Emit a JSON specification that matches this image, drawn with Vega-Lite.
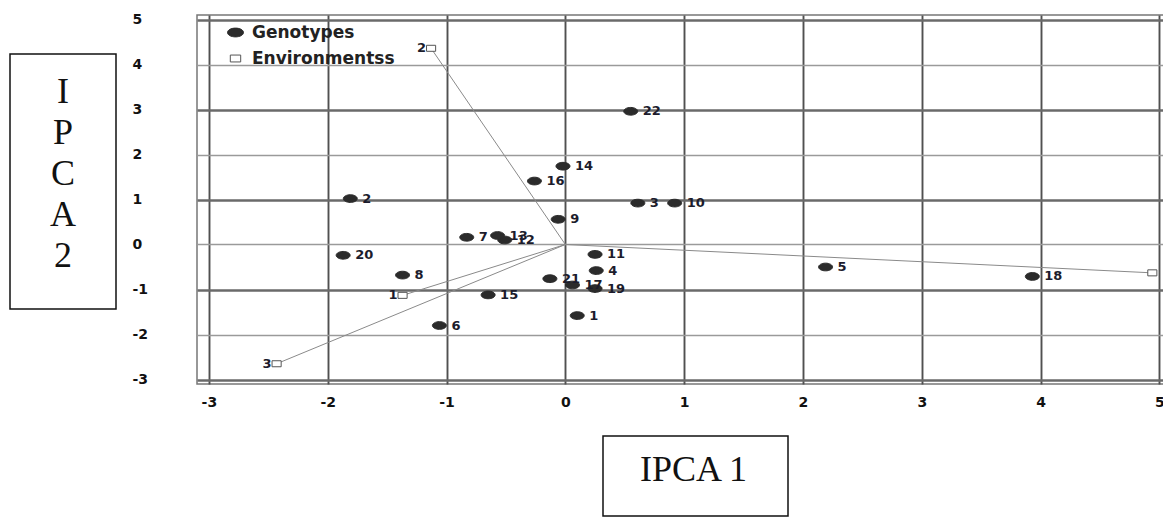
{
  "$schema": "https://vega.github.io/schema/vega-lite/v6.json",
  "padding": {"left": 9, "top": 11, "right": 0, "bottom": 0},
  "background": "white",
  "config": {"view": {"stroke": null}},
  "datasets": {
    "pts": [
      {"type": "Genotypes", "label": "1", "x": 0.10, "y": -1.58},
      {"type": "Genotypes", "label": "2", "x": -1.81, "y": 1.02},
      {"type": "Genotypes", "label": "3", "x": 0.61, "y": 0.92},
      {"type": "Genotypes", "label": "4", "x": 0.26, "y": -0.58},
      {"type": "Genotypes", "label": "5", "x": 2.19, "y": -0.50},
      {"type": "Genotypes", "label": "6", "x": -1.06, "y": -1.80},
      {"type": "Genotypes", "label": "7", "x": -0.83, "y": 0.16},
      {"type": "Genotypes", "label": "8", "x": -1.37, "y": -0.68},
      {"type": "Genotypes", "label": "9", "x": -0.06, "y": 0.56},
      {"type": "Genotypes", "label": "10", "x": 0.92, "y": 0.92},
      {"type": "Genotypes", "label": "11", "x": 0.25, "y": -0.22},
      {"type": "Genotypes", "label": "12", "x": -0.51, "y": 0.10},
      {"type": "Genotypes", "label": "13", "x": -0.57, "y": 0.20},
      {"type": "Genotypes", "label": "14", "x": -0.02, "y": 1.74},
      {"type": "Genotypes", "label": "15", "x": -0.65, "y": -1.12},
      {"type": "Genotypes", "label": "16", "x": -0.26, "y": 1.41},
      {"type": "Genotypes", "label": "17", "x": 0.06, "y": -0.90},
      {"type": "Genotypes", "label": "18", "x": 3.93, "y": -0.71},
      {"type": "Genotypes", "label": "19", "x": 0.25, "y": -0.98},
      {"type": "Genotypes", "label": "20", "x": -1.87, "y": -0.24},
      {"type": "Genotypes", "label": "21", "x": -0.13, "y": -0.76},
      {"type": "Genotypes", "label": "22", "x": 0.55, "y": 2.96},
      {"type": "Environmentss", "label": "1", "x": -1.37, "y": -1.13},
      {"type": "Environmentss", "label": "2", "x": -1.13, "y": 4.36},
      {"type": "Environmentss", "label": "3", "x": -2.43, "y": -2.65},
      {"type": "Environmentss", "label": "", "x": 4.94, "y": -0.63}
    ]
  },
  "hconcat": [
    {
      "vconcat": [
        {"width": 106, "height": 38, "data": {"values": [{}]}, "mark": {"type": "text", "text": ""}},
        {
          "width": 106, "height": 255,
          "view": {"stroke": "#111111", "strokeWidth": 1.5},
          "data": {"values": [{}]},
          "mark": {"type": "text", "text": ["I", "P", "C", "A", "2"], "font": "Liberation Serif", "fontSize": 36, "lineHeight": 41, "baseline": "middle", "align": "center", "dy": -90, "color": "#111111"}
        }
      ],
      "spacing": 0
    },
    {
      "vconcat": [
        {
          "width": 969, "height": 369,
          "view": {"stroke": "#777777", "strokeWidth": 1.5},
          "data": {"name": "pts"},
          "encoding": {
            "x": {"field": "x", "type": "quantitative",
                  "scale": {"domain": [-3.1, 5.055], "nice": false, "zero": false},
                  "axis": {"values": [-3, -2, -1, 0, 1, 2, 3, 4, 5], "title": null, "ticks": false, "domain": false, "labelPadding": 11, "labelFlush": false, "labelOverlap": false, "labelBound": false, "grid": true, "gridColor": "#505050", "gridWidth": 1.9,
                           "labelExpr": "datum.value < 0 ? '-' + abs(datum.value) : '' + datum.value",
                           "labelFont": "DejaVu Sans", "labelFontWeight": "bold", "labelFontSize": 14, "labelColor": "#111111"}},
            "y": {"field": "y", "type": "quantitative",
                  "scale": {"domain": [-3.1, 5.1], "nice": false, "zero": false},
                  "axis": {"values": [-3, -2, -1, 0, 1, 2, 3, 4, 5], "title": null, "ticks": false, "domain": false, "labelAlign": "left", "labelBaseline": "middle", "labelPadding": 65, "labelOverlap": false, "grid": true,
                           "labelExpr": "datum.value < 0 ? '-' + abs(datum.value) : '' + datum.value",
                           "gridColor": {"condition": {"test": "abs(datum.value) % 2 == 1", "value": "#6a6a6a"}, "value": "#9a9a9a"},
                           "gridWidth": {"condition": {"test": "abs(datum.value) % 2 == 1", "value": 2.6}, "value": 1.6},
                           "labelFont": "DejaVu Sans", "labelFontWeight": "bold", "labelFontSize": 14, "labelColor": "#111111"}}
          },
          "layer": [
            {
              "transform": [{"filter": "datum.type == 'Environmentss'"}],
              "mark": {"type": "rule", "color": "#8a8a8a", "strokeWidth": 1},
              "encoding": {"x2": {"datum": 0}, "y2": {"datum": 0}}
            },
            {
              "mark": {"type": "point", "filled": true, "opacity": 1, "size": 196, "strokeWidth": 1},
              "encoding": {
                "shape": {"field": "type", "type": "nominal",
                          "scale": {"domain": ["Genotypes", "Environmentss"], "range": ["M -1 0 A 1 0.55 0 1 0 1 0 A 1 0.55 0 1 0 -1 0 Z", "M -0.65 -0.43 L 0.65 -0.43 L 0.65 0.43 L -0.65 0.43 Z"]},
                          "legend": {"title": null, "orient": "none", "legendX": 217, "legendY": 9, "symbolSize": 256, "labelFont": "DejaVu Sans", "labelFontWeight": "bold", "labelFontSize": 17, "labelColor": "#222222", "rowPadding": 8, "labelOffset": 8, "padding": 0, "symbolStrokeWidth": 1}},
                "fill": {"field": "type", "type": "nominal",
                         "scale": {"domain": ["Genotypes", "Environmentss"], "range": ["#2b2b2b", "#ffffff"]},
                         "legend": {"title": null, "orient": "none", "legendX": 217, "legendY": 9, "symbolSize": 256, "labelFont": "DejaVu Sans", "labelFontWeight": "bold", "labelFontSize": 17, "labelColor": "#222222", "rowPadding": 8, "labelOffset": 8, "padding": 0, "symbolStrokeWidth": 1}},
                "stroke": {"field": "type", "type": "nominal",
                           "scale": {"domain": ["Genotypes", "Environmentss"], "range": ["#2b2b2b", "#555555"]},
                           "legend": {"title": null, "orient": "none", "legendX": 217, "legendY": 9, "symbolSize": 256, "labelFont": "DejaVu Sans", "labelFontWeight": "bold", "labelFontSize": 17, "labelColor": "#222222", "rowPadding": 8, "labelOffset": 8, "padding": 0, "symbolStrokeWidth": 1}}
              }
            },
            {
              "transform": [{"filter": "datum.type == 'Genotypes'"}],
              "mark": {"type": "text", "align": "left", "baseline": "middle", "dx": 12, "font": "DejaVu Sans", "fontWeight": "bold", "fontSize": 13, "color": "#1c1c2c"},
              "encoding": {"text": {"field": "label"}}
            },
            {
              "transform": [{"filter": "datum.type == 'Environmentss'"}],
              "mark": {"type": "text", "align": "right", "baseline": "middle", "dx": -5, "font": "DejaVu Sans", "fontWeight": "bold", "fontSize": 13, "color": "#1c1c2c"},
              "encoding": {"text": {"field": "label"}}
            }
          ]
        },
        {
          "hconcat": [
            {"width": 405, "height": 80, "data": {"values": [{}]}, "mark": {"type": "text", "text": ""}},
            {
              "width": 185, "height": 80,
              "view": {"stroke": "#111111", "strokeWidth": 1.5},
              "data": {"values": [{}]},
              "mark": {"type": "text", "text": "IPCA 1", "font": "Liberation Serif", "fontSize": 36, "baseline": "middle", "align": "center", "dy": -6, "dx": -2, "color": "#111111"}
            }
          ],
          "spacing": 0
        }
      ],
      "spacing": 25
    }
  ],
  "spacing": 14
}
